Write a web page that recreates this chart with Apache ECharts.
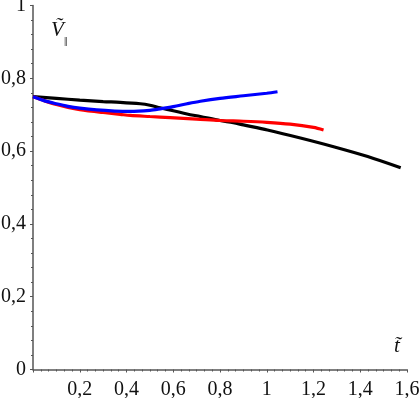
<!DOCTYPE html>
<html>
<head>
<meta charset="utf-8">
<script src="https://cdn.jsdelivr.net/npm/echarts@6/dist/echarts.min.js"></script>
<style>html,body{margin:0;padding:0;background:#fff}#c{width:420px;height:398px}</style>
</head>
<body>
<div id="c"></div>
<script>
const blackT = [0, 0.1, 0.2, 0.3, 0.373, 0.459, 0.5, 0.544, 0.6, 0.659, 0.716, 0.8, 0.857, 0.9, 1.003, 1.144, 1.286, 1.432, 1.573];
const blackV = [0.750, 0.745, 0.740, 0.736, 0.734, 0.730, 0.726, 0.719, 0.711, 0.702, 0.695, 0.684, 0.678, 0.672, 0.658, 0.636, 0.612, 0.585, 0.554];
const redT = [0, 0.05, 0.1, 0.15, 0.2, 0.3, 0.373, 0.416, 0.5, 0.587, 0.7, 0.8, 0.9, 1.0, 1.1, 1.2, 1.243];
const redV = [0.749, 0.738, 0.728, 0.720, 0.714, 0.706, 0.701, 0.698, 0.695, 0.692, 0.688, 0.684, 0.682, 0.679, 0.674, 0.665, 0.658];
const blueT = [0, 0.05, 0.1, 0.15, 0.2, 0.273, 0.35, 0.416, 0.5, 0.544, 0.6, 0.659, 0.716, 0.8, 0.9, 1.0, 1.046];
const blueV = [0.749, 0.738, 0.730, 0.723, 0.718, 0.713, 0.710, 0.709, 0.712, 0.716, 0.722, 0.730, 0.737, 0.745, 0.752, 0.759, 0.763];
const xTicks = [0.2, 0.4, 0.6, 0.8, 1, 1.2, 1.4, 1.6];
const yTicks = [0, 0.2, 0.4, 0.6, 0.8, 1];

const zip = (a, b) => a.map((v, i) => [v, b[i]]);
const fmt = v => String(Math.round(v * 10) / 10).replace('.', ',');
const axisCol = '#555';
const ff = 'Liberation Serif';

const chart = echarts.init(document.getElementById('c'));
chart.setOption({
  animation: false,
  grid: { left: 33, right: 13, top: 5.5, bottom: 28.5, outerBoundsMode: 'none', containLabel: false },
  xAxis: {
    type: 'value', min: 0, max: 1.6, interval: 0.2,
    axisLine: { lineStyle: { color: axisCol, width: 1.5 } },
    axisTick: { show: true, length: 3, lineStyle: { color: axisCol } },
    minorTick: { show: true, splitNumber: 6, length: 2, lineStyle: { color: axisCol } },
    splitLine: { show: false },
    axisLabel: {
      fontFamily: ff, fontSize: 20, color: '#111', margin: 10,
      formatter: v => (xTicks.some(t => Math.abs(t - v) < 1e-6) ? fmt(v) : '')
    }
  },
  yAxis: {
    type: 'value', min: 0, max: 1, interval: 0.2,
    axisLine: { show: true, lineStyle: { color: axisCol, width: 1.5 } },
    axisTick: { show: true, length: 3, lineStyle: { color: axisCol } },
    minorTick: { show: true, splitNumber: 5, length: 2, lineStyle: { color: axisCol } },
    splitLine: { show: false },
    axisLabel: {
      fontFamily: ff, fontSize: 20, color: '#111', margin: 7,
      formatter: v => (yTicks.some(t => Math.abs(t - v) < 1e-6) ? fmt(v) : '')
    }
  },
  series: [
    { type: 'line', data: zip(blackT, blackV), smooth: 0.3, showSymbol: false, lineStyle: { color: '#000', width: 3.2 } },
    { type: 'line', data: zip(redT, redV), smooth: 0.3, showSymbol: false, lineStyle: { color: '#ff0000', width: 3.2 } },
    { type: 'line', data: zip(blueT, blueV), smooth: 0.3, showSymbol: false, lineStyle: { color: '#0000ff', width: 3.2 } }
  ],
  graphic: [
    { type: 'text', left: 51, top: 20, style: { text: 'Ṽ', fontFamily: ff, fontStyle: 'italic', fontSize: 21, fill: '#111' } },
    { type: 'text', left: 64, top: 37, style: { text: '‖', fontFamily: ff, fontSize: 12, fill: '#111' } },
    { type: 'text', left: 394, top: 336, style: { text: 't\u0303', fontFamily: ff, fontStyle: 'italic', fontSize: 21, fill: '#111' } }
  ]
});
</script>
</body>
</html>
